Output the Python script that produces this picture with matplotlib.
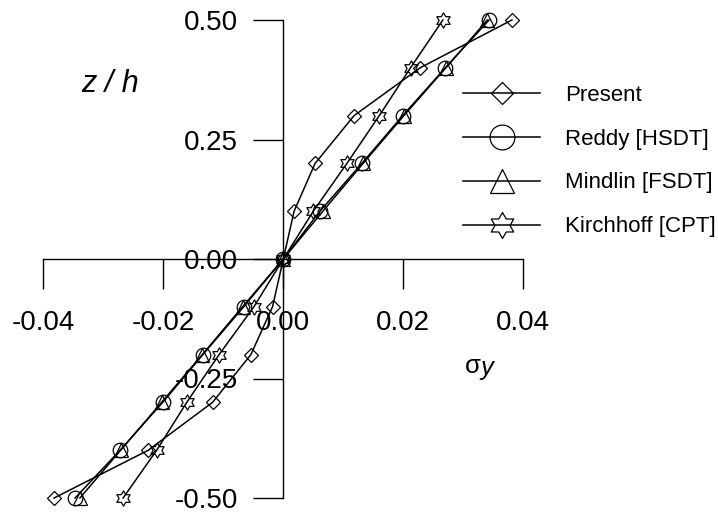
# encoding="utf-8"
# stress sigma_y through the thickness, four plate theories

import matplotlib
matplotlib.use("Agg")
import matplotlib.pyplot as plt
from matplotlib.path import Path

# data
z_h = [-0.5, -0.4, -0.3, -0.2, -0.1, 0.0, 0.1, 0.2, 0.3, 0.4, 0.5]
present = [-0.0382, -0.0225, -0.0118, -0.0054, -0.0018, 0.0, 0.0018, 0.0053, 0.0118, 0.0228, 0.0381]
reddy = [-0.0347, -0.0272, -0.0201, -0.0134, -0.0066, 0.0, 0.0061, 0.0131, 0.0199, 0.0270, 0.0343]
mindlin = [-0.0339, -0.0271, -0.0203, -0.0135, -0.0068, 0.0, 0.0066, 0.0133, 0.0201, 0.0271, 0.0340]
kirchhoff = [-0.0267, -0.0211, -0.0161, -0.0107, -0.0049, 0.0, 0.0050, 0.0106, 0.0160, 0.0212, 0.0266]
labels = ["Present", "Reddy [HSDT]", "Mindlin [FSDT]", "Kirchhoff [CPT]"]
x_ticks = [-0.04, -0.02, 0.0, 0.02, 0.04]
y_ticks = [-0.5, -0.25, 0.0, 0.25, 0.5]

plt.rcParams['font.family'] = ["Liberation Sans", "DejaVu Sans"]

# star of David marker
hexagram = Path.unit_regular_star(6, 0.577)

fig = plt.figure(figsize=(7.18, 5.15), dpi=100)
ax = fig.add_axes([43.3 / 718, 1 - 498 / 515, 480 / 718, 478 / 515])
ax.patch.set_visible(False)

series = [present, reddy, mindlin, kirchhoff]
markers = ["D", "o", "^", hexagram]
sizes = [6.8, 10.5, 10.5, 11]
for xs, m, s, lab in zip(series, markers, sizes, labels):
    ax.plot(xs, z_h, color="black", lw=1.1, marker=m, ms=s, mfc="none",
            mec="black", mew=0.9, label=lab, clip_on=False)

ax.set_xlim(-0.04, 0.04)
ax.set_ylim(-0.5, 0.5)

# axes cross at the origin
ax.spines['left'].set_position(('data', 0))
ax.spines['bottom'].set_position(('data', 0))
ax.spines['top'].set_visible(False)
ax.spines['right'].set_visible(False)
ax.spines['left'].set_linewidth(1.0)
ax.spines['bottom'].set_linewidth(1.0)

ax.set_xticks(x_ticks)
ax.set_xticklabels(["%.2f" % v for v in x_ticks])
ax.set_yticks(y_ticks)
ax.set_yticklabels(["%.2f" % v for v in y_ticks])
ax.tick_params(axis='x', direction='out', length=21.6, width=1.0, pad=15, labelsize=20)
ax.tick_params(axis='y', direction='out', length=21.6, width=1.0, pad=10.8, labelsize=20)

# axis titles
fig.text(110 / 718, 1 - 84 / 515, "z / h", fontsize=22, style='italic', ha='center', va='center')
fig.text(465 / 718, 1 - 366 / 515, "σ", fontsize=18.5, ha='left', va='center')
fig.text(480 / 718, 1 - 368 / 515, "y", fontsize=18.5, style='italic', ha='left', va='center')

ax.legend(loc='upper left', bbox_to_anchor=(463 / 718, 1 - 84.7 / 515),
          bbox_transform=fig.transFigure, frameon=False, fontsize=16,
          handlelength=3.47, handletextpad=1.12, labelspacing=1.03,
          borderpad=0, borderaxespad=0, markerscale=1.7)

plt.savefig("out.png", dpi=100)
